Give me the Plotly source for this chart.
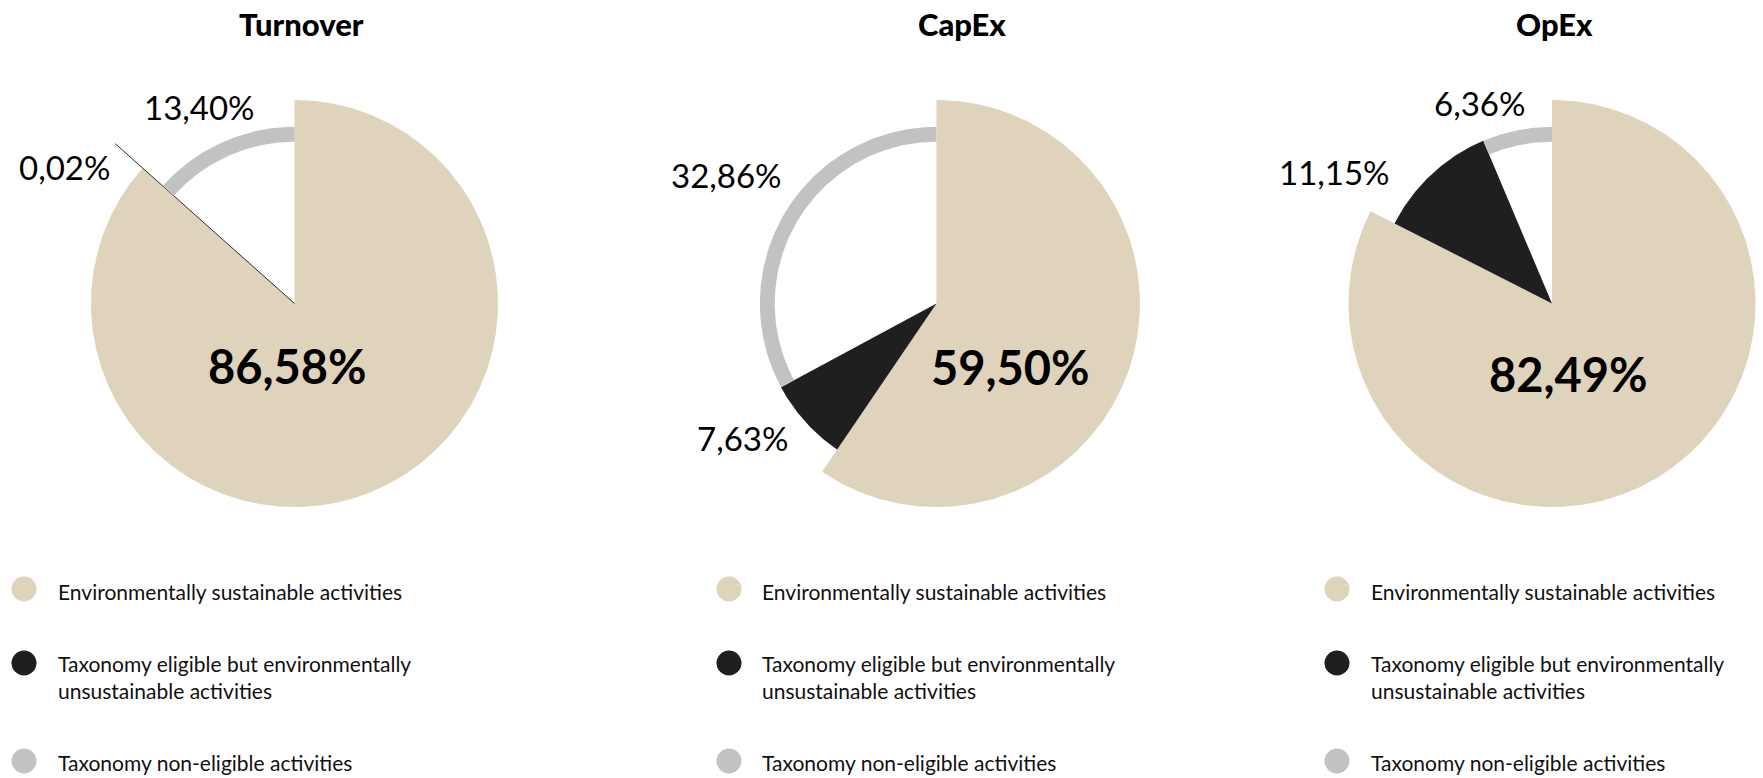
import numpy as np
import plotly.graph_objects as go

# ---- data -------------------------------------------------------------
panels = ["Turnover", "CapEx", "OpEx"]
categories = [
    "Environmentally sustainable activities",
    "Taxonomy eligible but environmentally<br>unsustainable activities",
    "Taxonomy non-eligible activities",
]
sustainable = [86.58, 59.50, 82.49]
eligible_unsustainable = [0.02, 7.63, 11.15]
non_eligible = [13.40, 32.86, 6.36]

# ---- styling / layout constants ---------------------------------------
W, H = 1763, 778
FONT = "Lato, 'Open Sans', sans-serif"
COLORS = ["#DFD3BB", "#1F1F1F", "#C2C2C2"]
# radial extent of each category (in units of the outer pie radius)
RADII = [(0.0, 1.0), (0.0, 0.868), (0.795, 0.868)]
R_PX = 203.5                      # outer radius in pixels
CENTERS = [(294.5, 303.5), (936.5, 303.5), (1552.0, 303.5)]
X_DOMAINS = [(0.0, 0.36), (0.36, 0.68), (0.70, 1.0)]
Y_DOMAIN = (0.30, 1.0)
LEADER_LEN = 1.18                 # leader line for very thin slices

# label placement relative to each pie centre, in pixels (dx, dy downwards)
TITLE_POS = [(6.5, -279.5), (25.5, -279.5), (2.5, -279.5)]
MAIN_LABEL_POS = [(-7.5, 62), (73.5, 63), (16, 70)]
ELIGIBLE_LABEL_POS = [(-230.5, -136.5), (-194.5, 134), (-218, -131.5)]
NONELIG_LABEL_POS = [(-95.5, -197), (-210.5, -128.5), (-73, -201)]

LEGEND_CIRCLE_X = [24, 729, 1337]
LEGEND_TEXT_X = [56, 760, 1369]
LEGEND_CIRCLE_Y = [589, 663, 761]
LEGEND_TEXT_Y = [591, 677, 762]
LEGEND_DOT = 25


def fmt(v):
    return f"{v:.2f}".replace(".", ",") + "%"


def arc(r, a0, a1):
    n = max(2, int(abs(a1 - a0) / 0.5) + 2)
    ang = np.radians(np.linspace(a0, a1, n))
    return r * np.sin(ang), r * np.cos(ang)


def slice_shape(a0, a1, r_in, r_out):
    xo, yo = arc(r_out, a0, a1)
    if r_in <= 0:
        xs = np.concatenate([[0.0], xo, [0.0]])
        ys = np.concatenate([[0.0], yo, [0.0]])
    else:
        xi, yi = arc(r_in, a1, a0)
        xs = np.concatenate([xo, xi, xo[:1]])
        ys = np.concatenate([yo, yi, yo[:1]])
    return xs, ys


fig = go.Figure()
annotations = []
shapes = []
layout_axes = {}

series = [sustainable, eligible_unsustainable, non_eligible]

for i, panel in enumerate(panels):
    suffix = "" if i == 0 else str(i + 1)
    xa, ya = "x" + suffix, "y" + suffix
    cx, cy = CENTERS[i]

    # axes: unit radius maps to R_PX pixels, centre at (cx, cy)
    d0, d1 = X_DOMAINS[i]
    xr = [(d0 * W - cx) / R_PX, (d1 * W - cx) / R_PX]
    yr = [(cy - (1 - Y_DOMAIN[0]) * H) / R_PX, (cy - (1 - Y_DOMAIN[1]) * H) / R_PX]
    layout_axes["xaxis" + suffix] = dict(domain=[d0, d1], range=xr, visible=False,
                                         fixedrange=True, anchor=ya)
    layout_axes["yaxis" + suffix] = dict(domain=list(Y_DOMAIN), range=yr, visible=False,
                                         fixedrange=True, anchor=xa)

    start = 0.0
    for k, values in enumerate(series):
        v = values[i]
        span = v * 3.6
        r_in, r_out = RADII[k]
        xs, ys = slice_shape(start, start + span, r_in, r_out)
        fig.add_trace(go.Scatter(
            x=xs, y=ys, mode="lines", fill="toself", fillcolor=COLORS[k],
            line=dict(width=0, color=COLORS[k]), name=categories[k].replace("<br>", " "),
            showlegend=False, hoverinfo="name", xaxis=xa, yaxis=ya,
        ))
        if v < 1.0:
            mid = np.radians(start + span / 2)
            fig.add_trace(go.Scatter(
                x=[0, LEADER_LEN * np.sin(mid)], y=[0, LEADER_LEN * np.cos(mid)],
                mode="lines", line=dict(color="#2a2a2a", width=1),
                showlegend=False, hoverinfo="skip", xaxis=xa, yaxis=ya,
            ))
        start += span

    def add_label(text, pos, size, weight="normal"):
        dx, dy = pos
        annotations.append(dict(
            x=dx / R_PX, y=-dy / R_PX, xref=xa, yref=ya, text=text, showarrow=False,
            xanchor="center", yanchor="middle",
            font=dict(family=FONT, size=size, color="#000000", weight=weight),
        ))

    add_label(panel, TITLE_POS[i], 31, weight=900)
    add_label(fmt(sustainable[i]), MAIN_LABEL_POS[i], 47, weight="bold")
    add_label(fmt(eligible_unsustainable[i]), ELIGIBLE_LABEL_POS[i], 33)
    add_label(fmt(non_eligible[i]), NONELIG_LABEL_POS[i], 33)

    # legend column beneath each pie
    for k, cat in enumerate(categories):
        ccx, ccy = LEGEND_CIRCLE_X[i], LEGEND_CIRCLE_Y[k]
        shapes.append(dict(
            type="circle", xref="paper", yref="paper",
            x0=(ccx - LEGEND_DOT / 2) / W, x1=(ccx + LEGEND_DOT / 2) / W,
            y0=1 - (ccy + LEGEND_DOT / 2) / H, y1=1 - (ccy - LEGEND_DOT / 2) / H,
            fillcolor=COLORS[k], line=dict(width=0),
        ))
        annotations.append(dict(
            x=LEGEND_TEXT_X[i] / W, y=1 - LEGEND_TEXT_Y[k] / H, xref="paper", yref="paper",
            text=cat, showarrow=False, xanchor="left", yanchor="middle", align="left",
            font=dict(family=FONT, size=21, color="#111111"),
        ))

fig.update_layout(
    width=W, height=H, autosize=False,
    margin=dict(l=0, r=0, t=0, b=0),
    paper_bgcolor="white", plot_bgcolor="white",
    showlegend=False,
    annotations=annotations, shapes=shapes,
    **layout_axes,
)

fig.write_html("out.html", config={"displayModeBar": False})
